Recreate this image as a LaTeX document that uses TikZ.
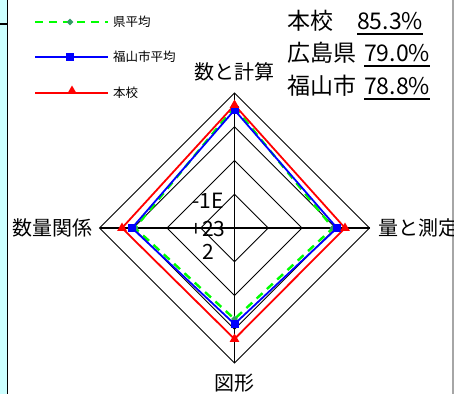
\documentclass[tikz,border=0pt]{standalone}
\usepackage{fontspec}
\setmainfont{Noto Sans CJK JP}
\usetikzlibrary{shapes.geometric}
\definecolor{cyanbg}{HTML}{CCFFFF}
\definecolor{grn}{HTML}{00FF00}
\definecolor{dgrn}{HTML}{339966}
\begin{document}
\begin{tikzpicture}[x=1pt,y=-1pt,
  grid/.style={black,line width=0.8pt},
  axis/.style={black,line width=1.3pt},
  redl/.style={red,line width=1.8pt},
  bluel/.style={blue,line width=1.8pt},
  grnl/.style={grn,line width=2.4pt,dash pattern=on 8pt off 6pt},
  tri/.style={regular polygon,regular polygon sides=3,fill=red,inner sep=0pt,minimum size=11pt},
  sq/.style={rectangle,fill=blue,inner sep=0pt,minimum size=8pt},
  dia/.style={diamond,fill=dgrn,inner sep=0pt,minimum size=7pt},
  axlab/.style={font=\fontsize{20}{20}\selectfont,inner sep=0pt},
  leg/.style={font=\fontsize{12.5}{12.5}\selectfont,anchor=west,inner sep=0pt},
  big/.style={font=\fontsize{23}{23}\selectfont,anchor=west,inner sep=0pt},
  tick/.style={font=\fontsize{21}{21}\selectfont,inner sep=0pt}]
\useasboundingbox (0,0) rectangle (454,394);
% frame pieces
\fill[cyanbg] (0,0) rectangle (7,394);
\draw[black,line width=1.6pt] (7.5,0) -- (7.5,394);
\draw[black,line width=1.2pt] (0,24) -- (8,24);
\draw[gray!70,line width=1.5pt] (453,0) -- (453,394);
% center
\coordinate (c) at (234.5,228);
% grid
\foreach \r in {33.75,67.5,101.25,135}{
  \draw[grid] (234.5,228-\r) -- (234.5+\r,228) -- (234.5,228+\r) -- (234.5-\r,228) -- cycle;
}
\coordinate (t) at (234.5,93);
\coordinate (b) at (234.5,363);
\coordinate (l) at (99.5,228);
\coordinate (r) at (369.5,228);
\draw[axis] (t) -- (b);
\draw[axis] (l) -- (r);
% tick labels
\node[tick] (k1) at (208,201) {-1E};
\node[tick] (k2) at (208,229) {+23};
\node[tick] (k3) at (208,252) {2};
% axis labels
\node[axlab] (L1) at (234.5,72) {数と計算};
\node[axlab,anchor=west] (L2) at (378,228) {量と測定};
\node[axlab] (L3) at (234.5,383) {図形};
\node[axlab,anchor=east] (L4) at (93,228) {数量関係};
% green (県平均)
\coordinate (g1) at (234.5,107);
\coordinate (g2) at (333,228);
\coordinate (g3) at (234.5,319);
\coordinate (g4) at (135,228);
\draw[grnl] (g1) -- (g2) -- (g3) -- (g4) -- cycle;
% blue
\coordinate (b1) at (234.5,110);
\coordinate (b2) at (337,228);
\coordinate (b3) at (234.5,324);
\coordinate (b4) at (132,228);
\draw[bluel] (b1) -- (b2) -- (b3) -- (b4) -- cycle;
% red
\coordinate (r1) at (234.5,105);
\coordinate (r2) at (345,228);
\coordinate (r3) at (234.5,339);
\coordinate (r4) at (122,228);
\draw[redl] (r1) -- (r2) -- (r3) -- (r4) -- cycle;
\foreach \p in {g1,g2,g3,g4}{\node[dia] at (\p) {};}
\foreach \p in {b1,b2,b3,b4}{\node[sq] at (\p) {};}
\foreach \p in {r1,r2,r3,r4}{\node[tri] at (\p) {};}
% legend
\coordinate (la1) at (35,22); \coordinate (lb1) at (108,22);
\draw[grnl] (la1) -- (lb1);
\node[dia] (lm1) at (70,22) {};
\node[leg] (lt1) at (113,22) {県平均};
\coordinate (la2) at (35,57); \coordinate (lb2) at (108,57);
\draw[bluel] (la2) -- (lb2);
\node[sq] (lm2) at (70,57) {};
\node[leg] (lt2) at (113,57) {福山市平均};
\coordinate (la3) at (35,93); \coordinate (lb3) at (108,93);
\draw[redl] (la3) -- (lb3);
\node[tri] (lm3) at (72,91) {};
\node[leg] (lt3) at (113,93) {本校};
% summary
\node[big] (s1) at (287,21) {本校};
\node[big] (s2) at (287,53) {広島県};
\node[big] (s3) at (287,86) {福山市};
\node[big] (v1) at (357,21) {85.3\%};
\node[big] (v2) at (364,53) {79.0\%};
\node[big] (v3) at (364,86) {78.8\%};
\draw[black,line width=1.4pt] (v1.west|-0,34) -- (v1.east|-0,34);
\draw[black,line width=1.4pt] (v2.west|-0,66) -- (v2.east|-0,66);
\draw[black,line width=1.4pt] (v3.west|-0,99) -- (v3.east|-0,99);
\end{tikzpicture}
\end{document}
